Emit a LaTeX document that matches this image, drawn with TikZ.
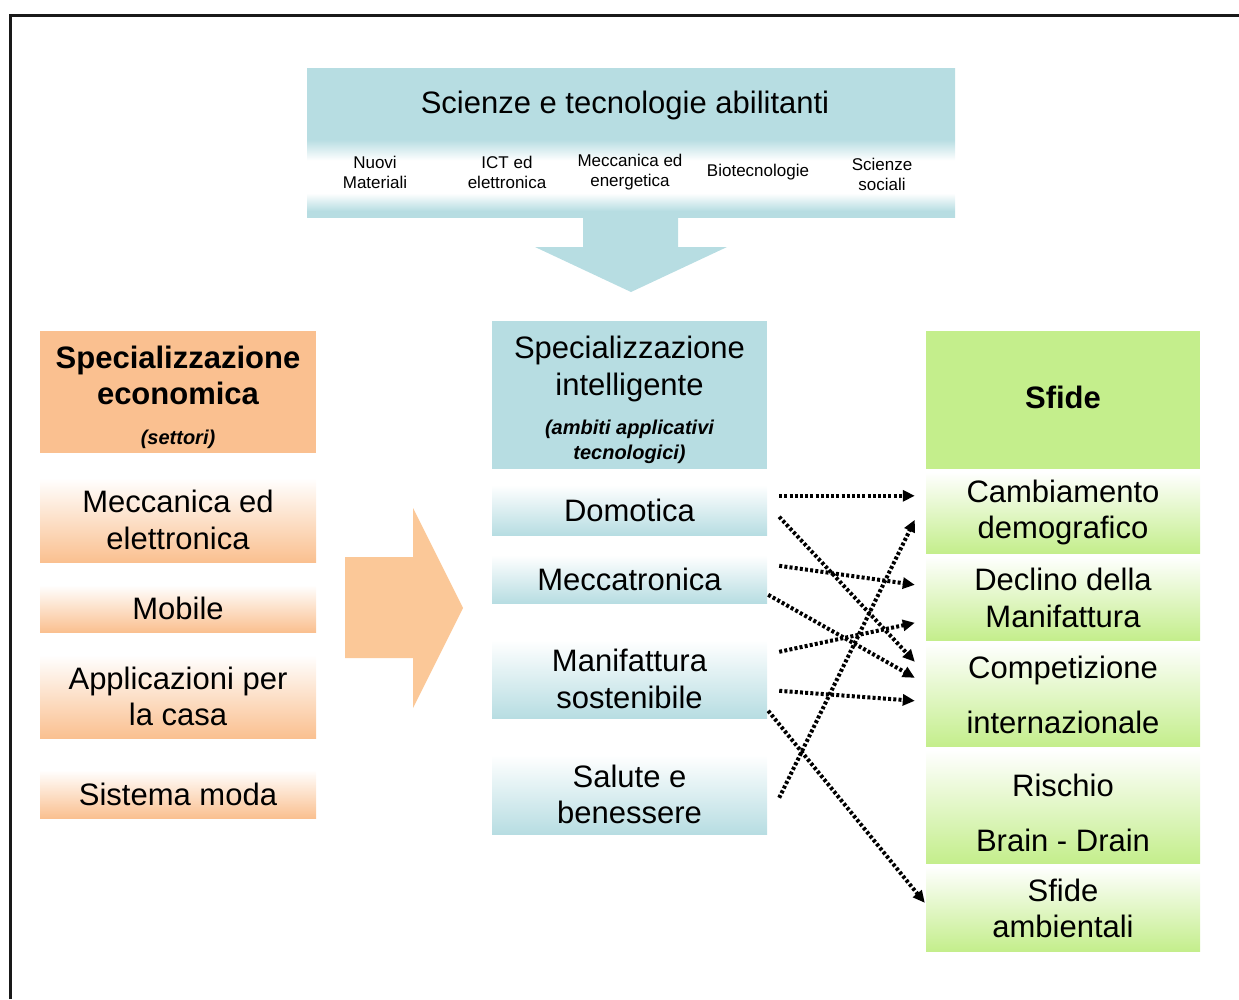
\documentclass[tikz,border=0pt]{standalone}
\usepackage{fontspec}
\setmainfont{Liberation Sans}
\usetikzlibrary{arrows.meta}

\definecolor{aquabox}{RGB}{183,221,226}
\definecolor{peachbox}{RGB}{250,192,144}
\definecolor{peacharrow}{RGB}{251,200,152}
\definecolor{limebox}{RGB}{196,238,140}
\definecolor{framegray}{RGB}{25,25,25}

% aqua band that fades to white behind the row of disciplines
\pgfdeclareverticalshading{bandshade}{100bp}{color(0bp)=(aquabox); color(27bp)=(aquabox); color(33bp)=(white); color(44bp)=(white); color(51bp)=(aquabox); color(100bp)=(aquabox)}

\tikzset{
  txt/.style={font=\fontsize{31}{36.5}\selectfont, align=center, inner sep=0pt},
  boldtxt/.style={font=\fontsize{31}{36.5}\selectfont\bfseries, align=center, inner sep=0pt},
  subtxt/.style={font=\fontsize{20}{25}\selectfont\bfseries\itshape, align=center, inner sep=0pt},
  smalltxt/.style={font=\fontsize{17}{20}\selectfont, align=center, inner sep=0pt},
  hdrbox/.style={inner sep=0pt, minimum width=#1},
  leftbox/.style={txt, minimum width=276pt, top color=white, bottom color=peachbox},
  midbox/.style={txt, minimum width=275pt, top color=white, bottom color=aquabox},
  rightbox/.style={txt, minimum width=274pt, top color=white, bottom color=limebox},
  link/.style={line width=4pt, dash pattern=on 3pt off 2.2pt, -{Triangle[length=12pt,width=11pt]}},
}

\begin{document}
\begin{tikzpicture}[x=1pt,y=-1pt]
\useasboundingbox (0,0) rectangle (1239,999);

% page frame
\draw[framegray, line width=3pt] (10.5,999) -- (10.5,15) -- (1239,15);

% enabling sciences and technologies
\node[shade, shading=bandshade, inner sep=0pt, minimum width=648pt, minimum height=149pt] (sci) at (631,142.5) {};
\node[txt] (scit) at (625,105) {Scienze e tecnologie abilitanti};
\node[smalltxt] (nuovi) at (375,172) {Nuovi\\Materiali};
\node[smalltxt] (ict) at (507,172) {ICT ed\\elettronica};
\node[smalltxt] (meccen) at (630,172) {Meccanica ed\\energetica};
\node[smalltxt] (biotec) at (758,172) {Biotecnologie};
\node[smalltxt] (sociali) at (882,174) {Scienze\\sociali};

% downward arrow
\fill[aquabox] (583,216) -- (583,247) -- (535,247) -- (631,292) -- (727,247) -- (678,247) -- (678,216) -- cycle;

% economic specialisation
\node[hdrbox=276pt, fill=peachbox, minimum height=122pt] (econ) at (178,392) {};
\node[boldtxt] (econt) at (178,375.5) {Specializzazione\\economica};
\node[subtxt] (econs) at (178,439) {(settori)};
\node[leftbox, minimum height=84pt] (lmec) at (178,520) {Meccanica ed\\elettronica};
\node[leftbox, minimum height=47pt] (lmob) at (178,608.5) {Mobile};
\node[leftbox, minimum height=83pt] (lapp) at (178,696.5) {Applicazioni per\\la casa};
\node[leftbox, minimum height=48pt] (lmoda) at (178,794) {Sistema moda};

% rightward arrow
\fill[peacharrow] (345,557) -- (413,557) -- (413,508) -- (463,608) -- (413,708) -- (413,658) -- (345,658) -- cycle;

% smart specialisation
\node[hdrbox=275pt, fill=aquabox, minimum height=148pt] (intel) at (629.5,395) {};
\node[txt] (intelt) at (629.5,369) {Specializzazione\\intelligente};
\node[subtxt] (intels) at (629.5,442) {(ambiti applicativi\\tecnologici)};
\node[midbox, minimum height=50pt] (dom) at (629.5,510) {Domotica};
\node[midbox, minimum height=48pt] (mecc) at (629.5,579) {Meccatronica};
\node[midbox, minimum height=78pt] (manif) at (629.5,679) {Manifattura\\sostenibile};
\node[midbox, minimum height=79pt] (salute) at (629.5,794.5) {Salute e\\benessere};

% challenges
\node[hdrbox=274pt, fill=limebox, minimum height=138pt] (sfide) at (1063,400) {};
\node[boldtxt] (sfidet) at (1063,397) {Sfide};
\node[rightbox, minimum height=81pt] (cambio) at (1063,512.5) {Cambiamento\\demografico};
\node[rightbox, minimum height=84pt] (declino) at (1063,598) {Declino della\\Manifattura};
\node[rightbox, minimum height=103pt, font=\fontsize{31}{55}\selectfont] (compet) at (1063,694.5) {Competizione\\internazionale};
\node[rightbox, minimum height=113pt, font=\fontsize{31}{55}\selectfont] (brain) at (1063,806.5) {\rule{0pt}{35pt}Rischio\\Brain - Drain};
\node[rightbox, minimum height=85pt] (ambient) at (1063,908.5) {Sfide\\ambientali};

% links between application fields and challenges
\draw[link] ([shift={(12,11)}]dom.north east) -- ([shift={(-11,24)}]cambio.north west);
\draw[link] ([shift={(12,32)}]dom.north east) -- ([shift={(-11,19)}]compet.north west);
\draw[link] ([shift={(12,11)}]mecc.north east) -- ([shift={(-11,29)}]declino.north west);
\draw[link] ([shift={(1,40)}]mecc.north east) -- ([shift={(-11,35)}]compet.north west);
\draw[link] ([shift={(12,12)}]manif.north east) -- ([shift={(-11,67)}]declino.north west);
\draw[link] ([shift={(12,51)}]manif.north east) -- ([shift={(-11,58)}]compet.north west);
\draw[link] ([shift={(1,71)}]manif.north east) -- ([shift={(-1,37)}]ambient.north west);
\draw[link] ([shift={(12,43)}]salute.north east) -- ([shift={(-11,48)}]cambio.north west);
\end{tikzpicture}
\end{document}
